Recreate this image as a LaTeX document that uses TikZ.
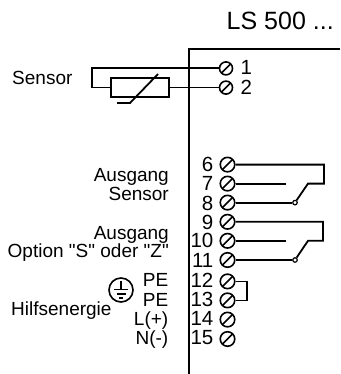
\documentclass[tikz,border=0pt]{standalone}
\usepackage{fontspec}
\setmainfont{Liberation Sans}
\newfontfamily\plainlabel{Liberation Sans}
\begin{document}
\begin{tikzpicture}[x=1pt,y=-1pt,
  wire/.style={line width=1.8pt,black},
  frame/.style={line width=2pt,black},
  term/.style={circle,draw,line width=1.6pt,minimum size=#1,inner sep=0pt,
    path picture={\draw[line width=1.6pt] (path picture bounding box.south west)--(path picture bounding box.north east);}},
  term/.default=14.5pt,
  num/.style={font=\fontsize{20.5}{20.5}\selectfont,inner sep=0pt},
  lab/.style={font=\plainlabel\fontsize{19}{19}\selectfont,inner sep=0pt},
  pin/.style={circle,draw,fill=white,line width=1.2pt,minimum size=4.5pt,inner sep=0pt}]
\useasboundingbox (0,0) rectangle (340,374);
\coordinate (frameTop) at (340,49);
\coordinate (frameCorner) at (188.5,49);
\coordinate (frameBottom) at (188.5,374);
\draw[frame] (frameTop) -- (frameCorner) -- (frameBottom);
\node[inner sep=0pt,font=\fontsize{25}{25}\selectfont,anchor=base west] (title) at (226.5,29.3) {LS 500 ...};
% terminals
\node[term=13pt] (t1) at (226,68.4) {};
\node[term=13pt] (t2) at (226,87.6) {};
\foreach \n/\y in {6/164.6,7/183.6,8/202.6,9/221.8,10/240.8,11/260,12/281.4,13/300.4,14/319.6,15/339}
  \node[term] (t\n) at (227.5,\y) {};
% numbers
\node[num,anchor=base west] (n1) at (240.5,75) {1};
\node[num,anchor=base west] (n2) at (240.5,94.3) {2};
\foreach \n/\y in {6/171.7,7/190.7,8/210,9/229.3,10/247.9,11/267,12/287,13/306.5,14/325.3,15/344.3}
  \node[num,anchor=base east] (n\n) at (213.5,\y) {\n};
% sensor
\node[lab,anchor=base west] (sensor) at (12,85) {Sensor};
\node[draw,line width=1.6pt,minimum width=58pt,minimum height=19pt,inner sep=0pt] (res) at (140,87.5) {};
\coordinate (c1) at (92,68.4);
\coordinate (c2) at (92,87.6);
\draw[wire] (t1) -- (c1) -- (c2) -- (c2 -| res.west);
\draw[wire] (res.east |- t2) -- (t2);
\coordinate (d1) at (158,74);
\coordinate (d2) at (130,103);
\coordinate (d3) at (117,103);
\draw[wire] (d1) -- (d2) -- (d3);
% relay 1
\coordinate (a1) at (324,164.6);
\coordinate (a2) at (324,183.6);
\coordinate (a3) at (308,183.6);
\coordinate (a4) at (285.7,183.6);
\node[pin] (p1) at (295,202.6) {};
\draw[wire] (t6) -- (a1) -- (a2) -- (a3) -- (p1);
\draw[wire] (t7) -- (a4);
\draw[wire] (t8) -- (p1);
% relay 2
\coordinate (b1) at (323,221.8);
\coordinate (b2) at (323,240.8);
\coordinate (b3) at (308,240.8);
\coordinate (b4) at (285.7,240.8);
\node[pin] (p2) at (295,260) {};
\draw[wire] (t9) -- (b1) -- (b2) -- (b3) -- (p2);
\draw[wire] (t10) -- (b4);
\draw[wire] (t11) -- (p2);
% bridge
\coordinate (e1) at (246.7,281.4);
\coordinate (e2) at (246.7,300.4);
\draw[wire] (t12) -- (e1) -- (e2) -- (t13);
% labels
\node[lab,anchor=base east] (l1) at (169,181.7) {Ausgang};
\node[lab,anchor=base east] (l2) at (169,200) {Sensor};
\node[lab,anchor=base east] (l3) at (169,239.7) {Ausgang};
\node[lab,anchor=base east] (l4) at (169,257.3) {Option "S" oder "Z"};
\node[lab,anchor=base east] (l5) at (168.5,286.7) {PE};
\node[lab,anchor=base east] (l6) at (168.5,306) {PE};
\node[lab,anchor=base east] (l7) at (168.5,325) {L(+)};
\node[lab,anchor=base east] (l8) at (168.5,344) {N(-)};
\node[lab,anchor=base west] (hilf) at (11,315) {Hilfsenergie};
% earth
\node[circle,draw,line width=1.6pt,minimum size=24pt,inner sep=0pt] (earth) at (121,290) {};
\draw[line width=1.4pt] (121,281) -- (121,289.5);
\draw[line width=1.4pt] (114,289.5) -- (128,289.5) (116.5,294) -- (125.5,294) (119,298) -- (123,298);
\end{tikzpicture}
\end{document}
